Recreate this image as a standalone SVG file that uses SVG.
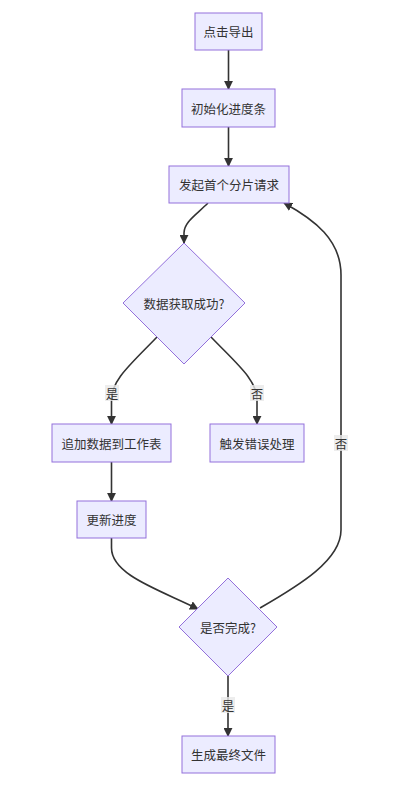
<svg xmlns="http://www.w3.org/2000/svg" width="417" height="799" viewBox="0 0 417 799">
<style>
.node rect,.node polygon{fill:#ECECFF;stroke:#9370DB;stroke-width:1px}
.edge{fill:none;stroke:#333333;stroke-width:1.6px}
text{font-family:"Noto Sans CJK SC","Liberation Sans",sans-serif;font-size:12.5px;fill:#333333;text-anchor:middle;dominant-baseline:central}
.lbl rect{fill:#e8e8e8;opacity:0.8}
</style>
<defs>
<marker id="arrow" viewBox="0 0 10 10" refX="9" refY="5" markerUnits="userSpaceOnUse" markerWidth="9" markerHeight="9" orient="auto">
<path d="M0,0 L10,5 L0,10 z" fill="#333333"/>
</marker>
</defs>
<rect width="417" height="799" fill="#ffffff"/>
<g id="connectors">
<path class="edge" d="M228.5,50 L228.5,89" marker-end="url(#arrow)"/>
<path class="edge" d="M228.5,127 L228.5,166" marker-end="url(#arrow)"/>
<path class="edge" d="M208,203 C196,215 184,222 184,233 L184,243" marker-end="url(#arrow)"/>
<path class="edge" d="M157,337 C130,365 111.5,380 111.5,400 L111.5,424" marker-end="url(#arrow)"/>
<path class="edge" d="M211,337 C238,365 257,380 257,400 L257,424" marker-end="url(#arrow)"/>
<path class="edge" d="M111.5,462 L111.5,501" marker-end="url(#arrow)"/>
<path class="edge" d="M111.5,538 L111.5,548 C111.5,575 160,590 198,609" marker-end="url(#arrow)"/>
<path class="edge" d="M228,676 L228,736" marker-end="url(#arrow)"/>
<path class="edge" d="M260,608 C300,585 341,560 341,530 L341,275 C341,240 315,220 284,203" marker-end="url(#arrow)"/>
</g>
<g id="edge-labels">
<g class="lbl"><rect x="105" y="385" width="14" height="16"/><text x="112" y="393">是</text></g>
<g class="lbl"><rect x="250" y="385" width="14" height="16"/><text x="257" y="393">否</text></g>
<g class="lbl"><rect x="221" y="697" width="14" height="16"/><text x="228" y="705">是</text></g>
<g class="lbl"><rect x="334" y="435" width="14" height="16"/><text x="341" y="443">否</text></g>
</g>
<g id="n1" class="node"><rect x="195" y="13" width="67" height="37"/><text x="228.5" y="31.5">点击导出</text></g>
<g id="n2" class="node"><rect x="182" y="89" width="93" height="38"/><text x="228.5" y="108">初始化进度条</text></g>
<g id="n3" class="node"><rect x="169" y="166" width="120" height="37"/><text x="229" y="184.5">发起首个分片请求</text></g>
<g id="d1" class="node"><polygon points="184,243 245,303 184,364 123,303"/><text x="184" y="303">数据获取成功?</text></g>
<g id="n4" class="node"><rect x="52" y="424" width="119" height="38"/><text x="111.5" y="443">追加数据到工作表</text></g>
<g id="n5" class="node"><rect x="210" y="424" width="94" height="38"/><text x="257" y="443">触发错误处理</text></g>
<g id="n6" class="node"><rect x="77" y="501" width="69" height="37"/><text x="111.5" y="519.5">更新进度</text></g>
<g id="d2" class="node"><polygon points="228,578 277,627 228,676 179,627"/><text x="228" y="627">是否完成?</text></g>
<g id="n7" class="node"><rect x="182" y="736" width="93" height="37"/><text x="228.5" y="754.5">生成最终文件</text></g>
</svg>
